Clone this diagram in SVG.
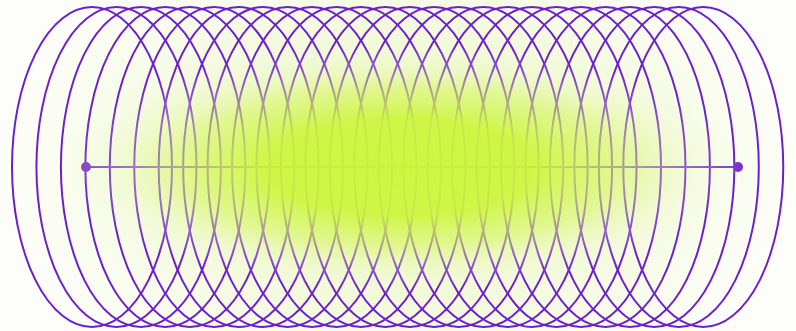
<svg xmlns="http://www.w3.org/2000/svg" width="796" height="331" viewBox="0 0 796 331">
  <defs>
    <radialGradient id="bg" gradientUnits="userSpaceOnUse" cx="400" cy="167" r="400" gradientTransform="translate(400 167) scale(1 0.6) translate(-400 -167)">
      <stop offset="0" stop-color="#eaf7b8"/>
      <stop offset="0.6" stop-color="#f3fade"/>
      <stop offset="1" stop-color="#fdfef9"/>
    </radialGradient>
    <radialGradient id="glow" gradientUnits="userSpaceOnUse" cx="400" cy="167" r="340" gradientTransform="translate(400 167) scale(1 0.36) translate(-400 -167)">
      <stop offset="0" stop-color="#cbf63a" stop-opacity="0.97"/>
      <stop offset="0.4" stop-color="#cdf63e" stop-opacity="0.93"/>
      <stop offset="0.65" stop-color="#d6f562" stop-opacity="0.58"/>
      <stop offset="0.85" stop-color="#e8f8b0" stop-opacity="0.22"/>
      <stop offset="1" stop-color="#f0fad0" stop-opacity="0"/>
    </radialGradient>
    <style>
      .coil ellipse { fill: none; stroke: #6c1fcf; stroke-width: 2; }
      .axis { stroke: #7d3ec4; stroke-width: 2.2; }
      .end { fill: #7a35c6; }
    </style>
  </defs>
  <rect width="796" height="331" fill="url(#bg)"/>
  <g id="coil" class="coil">
    <ellipse cx="92" cy="167" rx="80" ry="160"/>
    <ellipse cx="116.45" cy="167" rx="80" ry="160"/>
    <ellipse cx="140.9" cy="167" rx="80" ry="160"/>
    <ellipse cx="165.35" cy="167" rx="80" ry="160"/>
    <ellipse cx="189.8" cy="167" rx="80" ry="160"/>
    <ellipse cx="214.25" cy="167" rx="80" ry="160"/>
    <ellipse cx="238.7" cy="167" rx="80" ry="160"/>
    <ellipse cx="263.15" cy="167" rx="80" ry="160"/>
    <ellipse cx="287.6" cy="167" rx="80" ry="160"/>
    <ellipse cx="312.05" cy="167" rx="80" ry="160"/>
    <ellipse cx="336.5" cy="167" rx="80" ry="160"/>
    <ellipse cx="360.95" cy="167" rx="80" ry="160"/>
    <ellipse cx="385.4" cy="167" rx="80" ry="160"/>
    <ellipse cx="409.85" cy="167" rx="80" ry="160"/>
    <ellipse cx="434.3" cy="167" rx="80" ry="160"/>
    <ellipse cx="458.75" cy="167" rx="80" ry="160"/>
    <ellipse cx="483.2" cy="167" rx="80" ry="160"/>
    <ellipse cx="507.65" cy="167" rx="80" ry="160"/>
    <ellipse cx="532.1" cy="167" rx="80" ry="160"/>
    <ellipse cx="556.55" cy="167" rx="80" ry="160"/>
    <ellipse cx="581" cy="167" rx="80" ry="160"/>
    <ellipse cx="605.45" cy="167" rx="80" ry="160"/>
    <ellipse cx="629.9" cy="167" rx="80" ry="160"/>
    <ellipse cx="654.35" cy="167" rx="80" ry="160"/>
    <ellipse cx="678.8" cy="167" rx="80" ry="160"/>
    <ellipse cx="703.25" cy="167" rx="80" ry="160"/>
  </g>
  <g id="connectors">
    <line class="axis" x1="86" y1="167" x2="738" y2="167"/>
    <circle class="end" cx="86" cy="167" r="5"/>
    <circle class="end" cx="738" cy="167" r="5"/>
  </g>
  <rect width="796" height="331" fill="url(#glow)"/>
</svg>
